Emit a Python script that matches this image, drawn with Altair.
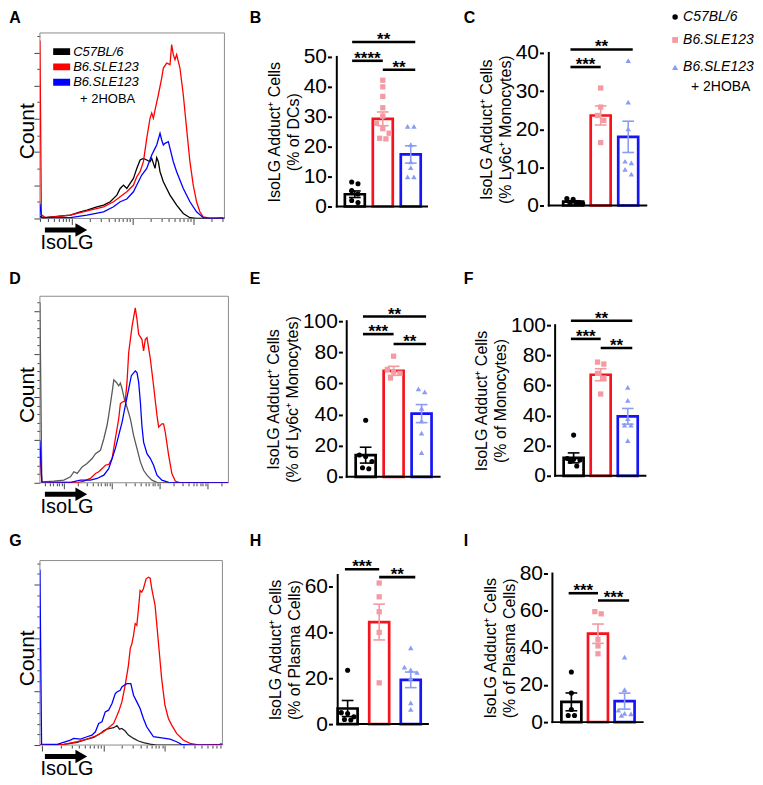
import json
import math
import altair as alt
import pandas as pd

FONT = "Liberation Sans"

# ---------------- groups / styles ----------------
GROUPS = ["C57BL/6", "B6.SLE123", "B6.SLE123 + 2HOBA"]
BAR_STROKE = ["#000000", "#f5141e", "#1616f5"]
POINT_FILL = ["#000000", "#f49aa2", "#8b9cf3"]
ERR_COLOR = ["#000000", "#f29aa2", "#8b9cf3"]
SHAPES = ["circle", "square", "triangle-up"]
SIZES = [26, 30, 34]
TITLE_1 = "IsoLG Adduct\u207a Cells"

# ---------------- histogram data (x: % of IsoLG axis, y: % of max count axis) ----------------
A_BLACK = [(0, 1), (2.2, 0.4), (16.5, 1.8), (21.9, 3.6), (25.5, 4.5), (30.9, 6.3), (34.5, 7.2), (38.1, 9.0),
           (41.7, 12.6), (43.5, 16.2), (45.3, 18.0), (47.1, 16.2), (48.9, 18.9), (50.7, 21.6), (52.5, 27.0),
           (54.3, 31.5), (56.1, 32.4), (57.9, 31.5), (59.7, 30.6), (60.6, 32.4), (61.5, 29.7), (62.4, 27.0),
           (63.3, 32.8), (64.2, 30.6), (65.1, 25.2), (66.9, 19.8), (68.7, 16.2), (70.5, 12.6), (74.1, 7.2),
           (77.7, 2.7), (81.3, 0.4), (84.9, 0), (100, 0)]
A_RED = [(0, 96), (0.8, 2), (3, 0.5), (7.6, 0.9), (16.5, 1.8), (21.9, 3.2), (27.3, 4.5), (34.5, 6.3), (39.9, 9.0),
         (43.5, 11.7), (47.1, 14.4), (50.7, 18.0), (52.5, 22.5), (54.3, 25.2), (56.1, 30.6), (57.9, 43.2),
         (59.7, 54.1), (60.6, 56.8), (61.5, 54.1), (62.4, 58.6), (64.2, 66.7), (66.0, 75.7), (66.9, 81.1),
         (68.7, 83.8), (70.5, 82.9), (71.4, 93.7), (72.3, 88.3), (73.2, 85.6), (74.1, 88.3), (75.9, 81.1),
         (77.7, 66.7), (79.5, 48.6), (81.3, 30.6), (83.1, 18.0), (84.9, 9.0), (86.7, 3.6), (88.5, 0.9),
         (92.1, 0.2), (99.3, 0.4)]
A_BLUE = [(0, 8), (0.8, 0.5), (16.5, 0.5), (25.5, 1.8), (34.5, 3.6), (39.9, 6.3), (43.5, 9.0), (47.1, 10.5),
          (50.7, 14.4), (52.5, 18.0), (55.2, 23.4), (57.9, 27.0), (60.6, 34.2), (62.4, 37.8), (63.3, 39.6),
          (65.1, 45.9), (66.0, 42.3), (66.9, 39.6), (67.8, 40.5), (69.6, 41.4), (70.5, 37.8), (72.3, 30.6),
          (74.1, 25.2), (77.7, 16.2), (81.3, 9.0), (84.9, 3.6), (88.5, 0.4), (92.1, 0), (100, 0)]

D_GREY = [(0, 96.4), (1.0, 1), (1.2, 0.5), (7.4, 0.9), (12.7, 1.4), (16.2, 3.2), (18.0, 5.9), (19.8, 5.0),
          (22.4, 8.5), (25.0, 10.3), (27.7, 13.0), (29.5, 15.6), (32.1, 17.4), (33.9, 23.6), (35.6, 30.7),
          (36.5, 36.1), (38.3, 48.5), (39.2, 55.2), (40.6, 53.8), (41.8, 52.0), (42.7, 53.5), (43.6, 50.3),
          (44.8, 44.9), (46.2, 40.5), (48.0, 34.3), (49.7, 25.4), (51.5, 18.3), (53.3, 11.2), (55.0, 6.7),
          (56.8, 4.1), (59.4, 1.4), (62.1, 0.2), (100, 0)]
D_RED = [(0, 18), (1.0, 0.3), (19.8, 0), (23.3, 0.9), (26.8, 2.3), (29.5, 5.0), (31.2, 5.9), (33.0, 7.6),
         (34.7, 9.4), (36.5, 9.8), (38.3, 13.0), (40.0, 23.6), (41.8, 34.3), (42.7, 42.5), (43.6, 43.2),
         (45.3, 44.0), (46.2, 53.8), (47.1, 69.8), (48.9, 84.0), (50.6, 93.8), (51.5, 87.6), (52.4, 79.6),
         (54.1, 76.9), (55.0, 70.7), (55.9, 76.9), (56.8, 77.8), (58.6, 66.3), (60.3, 52.0), (62.1, 36.1),
         (63.0, 29.8), (64.7, 31.6), (65.6, 31.6), (66.5, 27.2), (68.3, 14.7), (70.0, 5.0), (71.8, 0.9),
         (74.4, 0), (100, 0)]
D_BLUE = [(0, 22.7), (1.0, 0.3), (16.2, 0.2), (21.5, 1.4), (26.8, 1.4), (30.3, 2.3), (33.9, 4.1), (36.5, 7.6),
          (38.3, 13.0), (40.0, 18.3), (41.8, 25.4), (43.6, 32.5), (45.3, 41.4), (47.1, 50.3), (48.5, 57.4),
          (50.6, 60.0), (51.5, 59.1), (52.4, 53.8), (53.3, 43.2), (54.1, 30.7), (55.0, 21.8), (56.8, 15.6),
          (58.6, 13.0), (60.3, 9.4), (62.1, 4.1), (64.7, 1.4), (68.3, 0.2), (70.9, 0), (100, 0)]

G_BLACK = [(0, 0), (1.3, 0), (13.1, 0.4), (20.4, 1.4), (25.8, 3.2), (29.5, 4.1), (33.1, 6.3), (34.9, 7.7),
           (36.7, 8.6), (38.5, 9.0), (40.4, 9.4), (42.2, 10.5), (43.6, 8.6), (44.9, 9.0), (46.7, 7.6),
           (48.5, 5.4), (51.3, 3.6), (54.0, 2.2), (56.7, 1.3), (60.4, 0.5), (64.0, 0), (100, 0)]
G_RED = [(0, 0), (1.3, 0), (13.1, 0.4), (20.4, 1.8), (25.8, 3.2), (30.4, 4.9), (34.9, 7.2), (37.6, 9.4),
         (40.4, 11.7), (43.1, 18.0), (44.9, 23.4), (46.7, 32.4), (48.5, 43.2), (49.5, 52.3), (50.4, 55.0),
         (51.3, 59.5), (52.2, 65.8), (53.1, 64.9), (54.0, 73.9), (54.9, 83.8), (55.8, 82.9), (56.7, 84.7),
         (58.2, 90.1), (59.5, 91.0), (60.4, 90.5), (61.3, 84.7), (63.1, 75.7), (64.9, 55.9), (66.7, 36.0),
         (68.5, 21.6), (70.4, 14.4), (72.2, 10.8), (74.9, 6.3), (78.5, 2.7), (82.2, 0.9), (87.6, 0),
         (98.5, 0.4), (99.6, 0.9)]
G_BLUE = [(0, 95), (0.9, 0.5), (9.5, 0.4), (16.7, 2.7), (18.5, 3.6), (22.2, 3.2), (25.8, 4.5), (28.5, 5.4),
          (30.4, 7.2), (32.2, 11.7), (34.0, 12.6), (35.8, 18.0), (37.6, 18.9), (39.5, 22.5), (41.3, 27.9),
          (42.2, 28.8), (44.0, 29.7), (44.9, 31.5), (46.2, 32.4), (47.6, 33.3), (49.1, 33.3), (49.8, 33.3),
          (51.3, 27.0), (53.1, 23.4), (54.9, 19.8), (56.7, 14.4), (58.5, 9.9), (60.4, 7.2), (62.2, 4.5),
          (65.8, 4.0), (71.3, 3.2), (74.9, 1.8), (77.6, 0.4), (82.2, 0), (100, 0)]

# ---------------- bar chart data ----------------
B_POINTS = [[8.2, 7.6, 5.3, 4.2, 2.0, 1.3],
            [42.2, 40.0, 36.8, 33.0, 30.2, 27.8, 26.0, 24.5, 22.8, 22.6],
            [26.8, 26.8, 20.7, 14.9, 13.0, 9.9, 9.9]]
B_MEANS = [4.1, 29.3, 17.4]
B_SEMS = [1.1, 2.3, 2.9]
B_SIG = [(1, 3, 55.0, "**"), (1, 2, 48.7, "****"), (2, 3, 45.7, "**")]

C_POINTS = [[1.6, 1.8, 0.8, 0.7, 0.5, 0.6],
            [30.8, 25.8, 23.6, 22.3, 16.5],
            [38.0, 27.1, 20.1, 11.6, 11.2, 9.5, 8.2]]
C_MEANS = [1.0, 23.6, 18.0]
C_SEMS = [0.25, 2.5, 4.1]
C_SIG = [(1, 3, 40.9, "**"), (1, 2, 36.3, "***")]

E_POINTS = [[36.3, 14.0, 13.0, 9.8, 5.8, 5.2],
            [77.5, 69.0, 67.5, 66.5, 63.5],
            [56.5, 54.5, 44.0, 36.0, 28.0, 15.5]]
E_MEANS = [13.9, 68.1, 40.6]
E_SEMS = [5.1, 2.9, 5.8]
E_SIG = [(1, 3, 103.0, "**"), (1, 2, 91.7, "***"), (2, 3, 85.3, "**")]

F_POINTS = [[27.0, 11.5, 11.0, 10.5, 9.5, 6.5],
            [75.5, 74.2, 68.0, 64.9, 54.3],
            [58.7, 50.1, 38.0, 33.6, 33.6, 23.4]]
F_MEANS = [11.9, 67.1, 39.5]
F_SEMS = [3.3, 4.0, 5.2]
F_SIG = [(1, 3, 102.9, "**"), (1, 2, 90.9, "***"), (2, 3, 84.8, "**")]

H_POINTS = [[23.5, 5.0, 4.6, 3.2, 2.0, 1.8],
            [61.5, 55.5, 49.0, 40.0, 18.0],
            [33.2, 24.8, 23.6, 22.5, 20.0, 9.3, 6.4]]
H_MEANS = [6.8, 44.5, 19.3]
H_SEMS = [3.5, 7.8, 3.4]
H_SIG = [(1, 2, 67.5, "***"), (2, 3, 64.1, "**")]

I_POINTS = [[27.0, 15.7, 6.8, 3.6, 3.6],
            [59.5, 58.3, 44.5, 41.0, 36.8],
            [35.0, 17.5, 6.5, 4.7, 4.4, 3.6]]
I_MEANS = [10.9, 47.6, 11.3]
I_SEMS = [4.8, 5.2, 4.3]
I_SIG = [(1, 2, 69.4, "***"), (2, 3, 65.5, "***")]

ONE = pd.DataFrame({"k": [0]})

# ---------------- layout (pixels) ----------------
COL1_W = 189
COL_SPACING = 107.3
COL2_X = 335.0
COL2_W = 104.4
COL3_X = 546.7
COL3_W = 105
ROW_SPACING = 78


def letter_layer(letter, lx, ly):
    return alt.Chart(ONE).mark_text(text=letter, align="left", baseline="top", fontSize=16,
                                    fontWeight="bold", font=FONT, color="black").encode(
        x=alt.value(lx), y=alt.value(ly))


def log_ticks(majors, dec):
    vals = []
    for m in [majors[0] - dec] + majors:
        for k in range(2, 10):
            v = m + dec * math.log10(k)
            if 0 < v < 100:
                vals.append(round(v, 2))
    return vals


def size_cond(majors, big, small):
    return {"condition": {"test": "indexof(%s, datum.value) >= 0" % json.dumps(majors), "value": big},
            "value": small}


def hist_panel(letter, curves, colors, frame_w, H, xmaj, xdec, ymaj, ystep, letter_y, legend=False):
    rows = []
    names = []
    for name, pts in curves:
        names.append(name)
        for i, (x, y) in enumerate(pts):
            rows.append({"s": name, "x": x, "y": y, "i": i})
    df = pd.DataFrame(rows)
    xmaj = [round(v, 2) for v in xmaj]
    xvals = sorted(set(xmaj + log_ticks(xmaj, xdec)))
    ymaj = [round(v, 2) for v in ymaj]
    ymin = []
    v = 0.0
    while v <= 100:
        if all(abs(v - m) > 0.01 for m in ymaj):
            ymin.append(round(v, 2))
        v += ystep
    yvals = sorted(set(ymaj + ymin))
    xaxis = alt.Axis(values=xvals, labels=False, domain=False, grid=False, tickColor="#444444",
                     tickWidth=1, tickSize=size_cond(xmaj, 6, 3), title="IsoLG", titleFontSize=20,
                     titleFontWeight="normal", titleAnchor="start", titleAlign="left", titleX=0,
                     titleY=30, titleBaseline="alphabetic", titleColor="black")
    yaxis = alt.Axis(values=yvals, labels=False, domain=False, grid=False, tickColor="#444444",
                     tickWidth=1, tickSize=size_cond(ymaj, 6, 3), title="Count", titleFontSize=21,
                     titleFontWeight="normal", titleX=-6, titleY=H / 2 + 5, titleBaseline="alphabetic",
                     titleAngle=270, titleAlign="center", titleColor="black")
    xs = alt.Scale(domain=[0, 100.0 * COL1_W / frame_w], nice=False, zero=False)
    ys = alt.Scale(domain=[0, 100], nice=False, zero=False)

    def X(f):
        return alt.X(f, scale=xs, axis=xaxis)

    def Y(f):
        return alt.Y(f, scale=ys, axis=yaxis)

    frame_df = pd.DataFrame({"fx0": [0], "fx1": [100], "fy0": [0], "fy1": [100]})
    frame = alt.Chart(frame_df).mark_rect(filled=False, stroke="#8c8c8c", strokeWidth=1).encode(
        x=X("fx0:Q"), x2="fx1:Q", y=Y("fy0:Q"), y2="fy1:Q")
    lines = alt.Chart(df).mark_line(strokeWidth=1.3, clip=True).encode(
        x=X("x:Q"), y=Y("y:Q"),
        color=alt.Color("s:N", scale=alt.Scale(domain=names, range=colors), legend=None),
        order=alt.Order("i:Q"))
    layers = [frame, lines]
    # arrow under the axis
    layers.append(alt.Chart(ONE).mark_rule(strokeWidth=5, color="black").encode(
        x=alt.value(5), x2=alt.value(37), y=alt.value(H + 11.5)))
    layers.append(alt.Chart(ONE).mark_point(shape="triangle-right", filled=True, size=185, color="black",
                                            opacity=1).encode(x=alt.value(41.5), y=alt.value(H + 11.5)))
    if legend:
        leg = [("C57BL/6", colors[0], 18.7), ("B6.SLE123", colors[1], 34.0), ("B6.SLE123", colors[2], 49.3)]
        for lab, col, yc in leg:
            layers.append(alt.Chart(ONE).mark_rect(color=col).encode(
                x=alt.value(13.3), x2=alt.value(30.3), y=alt.value(yc - 3.5), y2=alt.value(yc + 3.5)))
            layers.append(alt.Chart(ONE).mark_text(text=lab, align="left", baseline="middle", fontSize=13,
                                                   fontStyle="italic", font=FONT, color="black").encode(
                x=alt.value(33.3), y=alt.value(yc)))
        layers.append(alt.Chart(ONE).mark_text(text="+ 2HOBA", align="left", baseline="middle", fontSize=13,
                                               font=FONT, color="black").encode(
            x=alt.value(40.3), y=alt.value(66)))
    layers.append(letter_layer(letter, -30.7, letter_y))
    return alt.layer(*layers).properties(width=COL1_W, height=H)


def swarm(vals, k, s, pos):
    order = sorted(range(len(vals)), key=lambda i: -vals[i])
    clusters = []
    for i in order:
        if clusters and abs(vals[clusters[-1][-1]] - vals[i]) * k < 5.5:
            clusters[-1].append(i)
        else:
            clusters.append([i])
    xs = [0.0] * len(vals)
    for c in clusters:
        n = len(c)
        for j, i in enumerate(c):
            if n <= 2:
                off = (j - (n - 1) / 2) * 7.0
            else:
                off = ((j % 3) - 1) * 7.0 + (3.5 if (j // 3) % 2 else 0.0)
            xs[i] = pos + off / s
    return xs


def bar_panel(letter, title2, points, means, sems, sig, cell_left, W, H, axis_abs, g1_abs, s,
              axis_end_abs, zero_rel, k, axis_top, ticks, letter_xy, legend=False):
    d0 = 1 - (g1_abs - cell_left) / s
    d1 = d0 + W / s
    xa = d0 + (axis_abs - cell_left) / s
    xe = d0 + (axis_end_abs - cell_left) / s
    ytop = zero_rel / k
    ybot = -(H - zero_rel) / k
    xs = alt.Scale(domain=[d0, d1], nice=False, zero=False)
    ys = alt.Scale(domain=[ybot, ytop], nice=False, zero=False)
    yaxis = alt.Axis(values=ticks, domain=False, grid=False, offset=cell_left - axis_abs, tickSize=4,
                     tickWidth=2, tickColor="black", labelFontSize=21, labelPadding=1, labelColor="black",
                     title=[TITLE_1, title2], titleFontSize=16, titleFontWeight="normal", titlePadding=2,
                     titleLineHeight=19, titleColor="black", titleY=zero_rel - axis_top * k / 2)

    def X(f):
        return alt.X(f, scale=xs, axis=None)

    def Y(f):
        return alt.Y(f, scale=ys, axis=yaxis)

    bars_df = pd.DataFrame({"pos": [1, 2, 3], "mean": means, "g": GROUPS, "zero": [0, 0, 0]})
    err_df = pd.DataFrame({"pos": [1, 2, 3], "g": GROUPS,
                           "lo": [m - e for m, e in zip(means, sems)],
                           "hi": [m + e for m, e in zip(means, sems)],
                           "cl": [p - 6.5 / s for p in (1, 2, 3)],
                           "cr": [p + 6.5 / s for p in (1, 2, 3)]})
    prow = []
    for gi, vals in enumerate(points):
        xsw = swarm(vals, k, s, gi + 1)
        for v, xp in zip(vals, xsw):
            prow.append({"g": GROUPS[gi], "v": v, "xp": xp})
    pts_df = pd.DataFrame(prow)
    ax_df = pd.DataFrame({"xa": [xa], "xe": [xe], "y0": [0], "yt": [axis_top]})
    brows = []
    for i, j, yv, lab in sig:
        x1 = i - (3.0 / s if i == 1 else 0)
        x2 = j + (5.0 / s if j == 3 else 0)
        brows.append({"x1": x1, "x2": x2, "xm": (x1 + x2) / 2, "y": yv, "lab": lab})
    br_df = pd.DataFrame(brows)

    bars = alt.Chart(bars_df).mark_bar(width=20, fill="white", strokeWidth=2.7).encode(
        x=X("pos:Q"), y=Y("mean:Q"), y2="zero:Q",
        stroke=alt.Stroke("g:N", scale=alt.Scale(domain=GROUPS, range=BAR_STROKE), legend=None))
    ecol = alt.Color("g:N", scale=alt.Scale(domain=GROUPS, range=ERR_COLOR), legend=None)
    err_v = alt.Chart(err_df).mark_rule(strokeWidth=1.6).encode(x=X("pos:Q"), y=Y("lo:Q"), y2="hi:Q", color=ecol)
    cap_hi = alt.Chart(err_df).mark_rule(strokeWidth=1.6).encode(x=X("cl:Q"), x2="cr:Q", y=Y("hi:Q"), color=ecol)
    cap_lo = alt.Chart(err_df).mark_rule(strokeWidth=1.6).encode(x=X("cl:Q"), x2="cr:Q", y=Y("lo:Q"), color=ecol)
    pts = alt.Chart(pts_df).mark_point(filled=True, opacity=1, strokeWidth=0).encode(
        x=X("xp:Q"), y=Y("v:Q"),
        fill=alt.Fill("g:N", scale=alt.Scale(domain=GROUPS, range=POINT_FILL), legend=None),
        shape=alt.Shape("g:N", scale=alt.Scale(domain=GROUPS, range=SHAPES), legend=None),
        size=alt.Size("g:N", scale=alt.Scale(domain=GROUPS, range=SIZES), legend=None))
    xline = alt.Chart(ax_df).mark_rule(strokeWidth=2, color="black", strokeCap="square").encode(
        x=X("xa:Q"), x2="xe:Q", y=Y("y0:Q"))
    yline = alt.Chart(ax_df).mark_rule(strokeWidth=2, color="black", strokeCap="square").encode(
        x=X("xa:Q"), y=Y("y0:Q"), y2="yt:Q")
    brl = alt.Chart(br_df).mark_rule(strokeWidth=2.6, color="black").encode(x=X("x1:Q"), x2="x2:Q", y=Y("y:Q"))
    brt = alt.Chart(br_df).mark_text(fontSize=17, fontWeight="bold", baseline="alphabetic", dy=3,
                                     font=FONT, color="black").encode(x=X("xm:Q"), y=Y("y:Q"), text="lab:N")
    layers = [bars, err_v, cap_hi, cap_lo, pts, xline, yline, brl, brt,
              letter_layer(letter, letter_xy[0], letter_xy[1])]
    if legend:
        entries = [("C57BL/6", -16), ("B6.SLE123", 7), ("B6.SLE123", 34.5)]
        lx = 675 - cell_left
        for gi, (lab, yc) in enumerate(entries):
            layers.append(alt.Chart(ONE).mark_point(filled=True, opacity=1, strokeWidth=0, shape=SHAPES[gi],
                                                    size=SIZES[gi] + 4, color=POINT_FILL[gi]).encode(
                x=alt.value(lx), y=alt.value(yc)))
            layers.append(alt.Chart(ONE).mark_text(text=lab, align="left", baseline="middle", fontSize=14,
                                                   fontStyle="italic", font=FONT, color="black").encode(
                x=alt.value(lx + 8), y=alt.value(yc)))
        layers.append(alt.Chart(ONE).mark_text(text="+ 2HOBA", align="left", baseline="middle", fontSize=14,
                                               font=FONT, color="black").encode(
            x=alt.value(lx + 16), y=alt.value(54)))
    return alt.layer(*layers).properties(width=W, height=H)


HIST_COLORS_A = ["#000000", "#ff0000", "#0000ff"]
HIST_COLORS_D = ["#5a5a5a", "#ff0000", "#0000ff"]
HIST_COLORS_G = ["#222222", "#ff0000", "#0000ff"]

A = hist_panel("A", [("C57BL/6", A_BLACK), ("B6.SLE123", A_RED), ("B6.SLE123 + 2HOBA", A_BLUE)],
               HIST_COLORS_A, 185, 186, [17.4, 50.2, 83.0], 32.8,
               [0, 17.9, 35.8, 53.7, 71.6, 89.5], 8.95, -23, legend=True)
D = hist_panel("D", [("C57BL/6", D_GREY), ("B6.SLE123", D_RED), ("B6.SLE123 + 2HOBA", D_BLUE)],
               HIST_COLORS_D, 189, 187, [12.7, 38.1, 63.5, 88.9], 25.4,
               [0, 23, 46, 69, 92], 4.6, -25)
G = hist_panel("G", [("C57BL/6", G_BLACK), ("B6.SLE123", G_RED), ("B6.SLE123 + 2HOBA", G_BLUE)],
               HIST_COLORS_G, 183, 185, [1.3, 34.9, 68.5], 33.6,
               [0, 29, 58, 87], 5.8, -28)

B = bar_panel("B", "(% of DCs)", B_POINTS, B_MEANS, B_SEMS, B_SIG, COL2_X, COL2_W, 186, 331, 351, 31, 431,
              174, 3.0, 50, [0, 10, 20, 30, 40, 50], (249 - COL2_X, -23))
C = bar_panel("C", "(% Ly6c\u207a Monocytes)", C_POINTS, C_MEANS, C_SEMS, C_SIG, COL3_X, COL3_W, 186, 543, 570,
              30.5, 651, 173, 3.825, 40, [0, 10, 20, 30, 40], (463 - COL3_X, -23), legend=True)
E = bar_panel("E", "(% of Ly6c\u207a Monocytes)", E_POINTS, E_MEANS, E_SEMS, E_SIG, COL2_X, COL2_W, 187, 342,
              363, 31, 445, 181, 1.56, 100, [0, 20, 40, 60, 80, 100], (249 - COL2_X, -25))
F = bar_panel("F", "(% of Monocytes)", F_POINTS, F_MEANS, F_SEMS, F_SIG, COL3_X, COL3_W, 187, 550, 570.5, 30,
              650, 180, 1.51, 100, [0, 20, 40, 60, 80, 100], (463 - COL3_X, -25))
H = bar_panel("H", "(% of Plasma Cells)", H_POINTS, H_MEANS, H_SEMS, H_SIG, COL2_X, COL2_W, 185, 332, 343, 35,
              432, 164, 2.3, 65, [0, 20, 40, 60], (249 - COL2_X, -28))
I = bar_panel("I", "(% of Plasma Cells)", I_POINTS, I_MEANS, I_SEMS, I_SIG, COL3_X, COL3_W, 185, 547, 568, 29.5,
              647, 162, 1.8625, 80, [0, 20, 40, 60, 80], (463 - COL3_X, -28))

chart = alt.concat(A, B, C, D, E, F, G, H, I, columns=3,
                   spacing={"row": ROW_SPACING, "column": COL_SPACING},
                   align="none", bounds="flush").resolve_scale(
    x="independent", y="independent", color="independent", fill="independent",
    stroke="independent", shape="independent", size="independent").properties(
    padding=0).configure_view(stroke="transparent").configure_axis(labelFont=FONT, titleFont=FONT)

chart.save("out.html", embed_options={"renderer": "svg", "actions": False})
